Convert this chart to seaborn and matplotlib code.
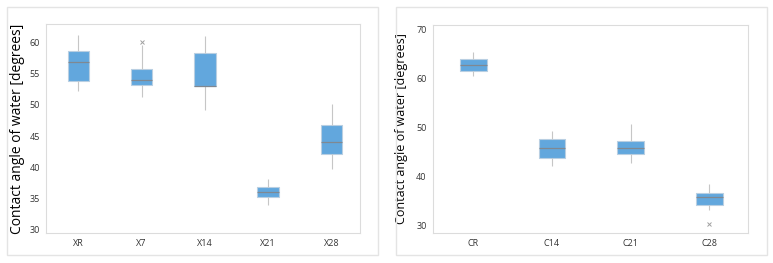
import pandas as pd
import matplotlib.pyplot as plt
import seaborn as sns
from matplotlib.patches import Rectangle

# five-number summaries
x_groups = ['XR', 'X7', 'X14', 'X21', 'X28']
x_low = [52.2, 51.3, 49.1, 33.9, 39.8]
x_q1 = [53.8, 53.1, 53.0, 35.2, 42.2]
x_med = [56.8, 53.9, 53.0, 36.0, 44.1]
x_q3 = [58.6, 55.7, 58.2, 36.8, 46.8]
x_high = [61.2, 59.5, 61.0, 38.2, 50.1]
x_out = [None, 60.0, None, None, None]

c_groups = ['CR', 'C14', 'C21', 'C28']
c_low = [60.5, 42.1, 42.8, 33.1]
c_q1 = [61.4, 43.7, 44.5, 34.1]
c_med = [62.7, 45.7, 45.7, 35.7]
c_q3 = [63.9, 47.6, 47.1, 36.5]
c_high = [65.4, 49.3, 50.7, 38.4]
c_out = [None, None, None, 30.3]


def make_frame(groups, lo, q1, med, q3, hi, out):
    # 9 points per group so that linear percentiles give exactly q1/median/q3
    rows = []
    for i, g in enumerate(groups):
        if out[i] is None:
            vals = [lo[i], q1[i], q1[i], med[i], med[i], med[i], q3[i], q3[i], hi[i]]
        elif out[i] > hi[i]:
            vals = [lo[i], q1[i], q1[i], med[i], med[i], med[i], q3[i], hi[i], out[i]]
        else:
            vals = [out[i], lo[i], q1[i], med[i], med[i], med[i], q3[i], q3[i], hi[i]]
        for v in vals:
            rows.append({'group': g, 'value': v})
    return pd.DataFrame(rows)


df_x = make_frame(x_groups, x_low, x_q1, x_med, x_q3, x_high, x_out)
df_c = make_frame(c_groups, c_low, c_q1, c_med, c_q3, c_high, c_out)

sns.set_style('white')
plt.rcParams['font.family'] = ['Open Sans', 'DejaVu Sans']

fig = plt.figure(figsize=(7.73, 2.63), dpi=100)
W, H = 773, 263

# light panel frames
for x0 in (7, 396):
    fig.patches.append(Rectangle((x0 / W, 8 / H), 371 / W, 248 / H, transform=fig.transFigure,
                                 fill=False, edgecolor='#e4e4e4', linewidth=1))

ax1 = fig.add_axes([46 / W, 30 / H, 314 / W, 209 / H])
ax2 = fig.add_axes([433 / W, 30 / H, 315 / W, 208 / H])

box_kw = dict(
    x='group', y='value', width=0.34, color='#62a7dd', saturation=1, whis=1.5,
    boxprops=dict(edgecolor='#b9cfe2', linewidth=0.8),
    whiskerprops=dict(color='#c6c6c6', linewidth=0.8),
    capprops=dict(linewidth=0),
    medianprops=dict(color='#808891', linewidth=0.9),
    flierprops=dict(marker='x', markersize=3, markeredgecolor='#a0a0a0', markeredgewidth=0.7),
)

sns.boxplot(data=df_x, ax=ax1, **box_kw)
sns.boxplot(data=df_c, ax=ax2, **box_kw)

ax1.set_ylim(29.5, 62.9)
ax1.set_yticks([30, 35, 40, 45, 50, 55, 60])
ax1.set_xlim(-0.51, 4.45)
ax2.set_ylim(28.4, 70.9)
ax2.set_yticks([30, 40, 50, 60, 70])
ax2.set_xlim(-0.51, 3.49)

for ax, fs, lp in ((ax1, 10, 3), (ax2, 9, 6)):
    ax.set_xlabel('')
    ax.set_ylabel('Contact angle of water [degrees]', fontsize=fs, color='black', labelpad=lp)
    for s in ax.spines.values():
        s.set_color('#dcdcdc')
        s.set_linewidth(0.8)
    ax.tick_params(axis='both', labelsize=6.5, colors='#dcdcdc', labelcolor='#333333',
                   length=2.5, width=0.6, pad=2)

fig.savefig('out.png', dpi=100)
